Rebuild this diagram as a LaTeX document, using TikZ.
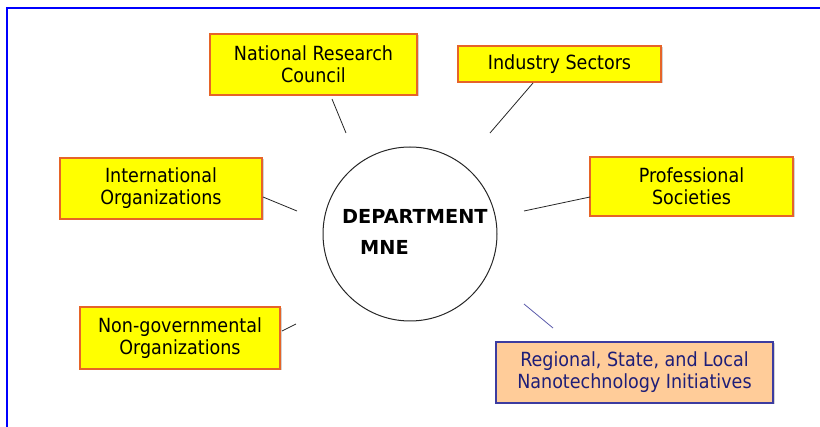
\documentclass[tikz,border=0pt]{standalone}
\usepackage{fontspec}
\setmainfont{DejaVu Sans}
\newfontfamily\boxfont{DejaVu Sans Condensed}
\usetikzlibrary{shadows}
\definecolor{boxyellow}{RGB}{255,255,0}
\definecolor{boxedge}{RGB}{230,100,40}
\definecolor{peach}{RGB}{255,204,153}
\definecolor{navyedge}{RGB}{60,60,160}
\definecolor{navytext}{RGB}{30,30,120}
\definecolor{frameblue}{RGB}{0,0,255}
\definecolor{linkblue}{RGB}{90,90,170}
\tikzset{
  ybox/.style={draw=boxedge, line width=1.4pt, fill=boxyellow, align=center,
    inner sep=0pt, font=\boxfont\fontsize{19.5}{22}\selectfont,
    drop shadow={shadow xshift=1.5pt, shadow yshift=-1.5pt, opacity=0.35}},
  obox/.style={ybox, draw=navyedge, fill=peach, text=navytext},
  link/.style={draw=black!85, line width=0.8pt},
  depttext/.style={anchor=base west, inner sep=0pt, font=\bfseries\fontsize{19.3}{22}\selectfont},
}
\begin{document}
\begin{tikzpicture}[x=1pt,y=-1pt]
\useasboundingbox (0,0) rectangle (820,427);
\draw[frameblue, line width=2pt] (6.5,427) -- (6.5,8.5) -- (820,8.5);

\node[ybox, minimum width=207pt, minimum height=61pt] (nrc) at (313.5,64.5) {National Research\\Council};
\node[ybox, minimum width=203pt, minimum height=36pt] (ind) at (559.5,64) {Industry Sectors};
\node[ybox, minimum width=202pt, minimum height=61pt] (intl) at (161,188.5) {International\\Organizations};
\node[ybox, minimum width=203pt, minimum height=59pt] (prof) at (691.5,186.5) {Professional\\Societies};
\node[ybox, minimum width=200pt, minimum height=62pt] (ngo) at (180,338) {Non-governmental\\Organizations};
\node[obox, minimum width=277pt, minimum height=61pt] (reg) at (634.5,372.5) {Regional, State, and Local\\Nanotechnology Initiatives};

\node[draw=black!85, line width=1pt, circle, minimum size=174pt, inner sep=0pt] (dept) at (410,234) {};
\node[depttext] (t1) at (342,224) {DEPARTMENT};
\node[depttext] (t2) at (360,255) {MNE};

\coordinate (a1) at (332,99);  \coordinate (a2) at (346,133);
\coordinate (b1) at (533,83);  \coordinate (b2) at (490,133);
\coordinate (c1) at (263,197); \coordinate (c2) at (297,211);
\coordinate (d1) at (590,197); \coordinate (d2) at (524,211);
\coordinate (e1) at (282,331); \coordinate (e2) at (296,324);
\coordinate (f1) at (524,304); \coordinate (f2) at (553,328);
\draw[link] (a1) -- (a2);
\draw[link] (b1) -- (b2);
\draw[link] (c1) -- (c2);
\draw[link] (d1) -- (d2);
\draw[link] (e1) -- (e2);
\draw[link, draw=linkblue] (f1) -- (f2);
\end{tikzpicture}
\end{document}
